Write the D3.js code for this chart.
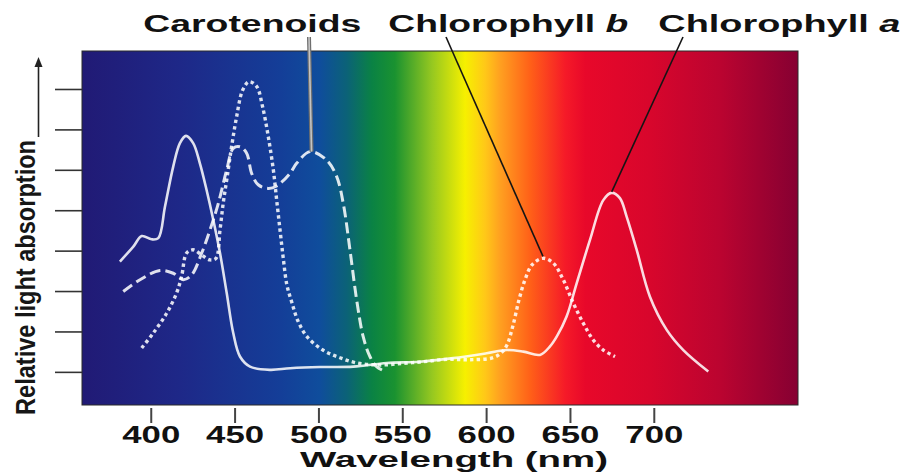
<!DOCTYPE html>
<html>
<head>
<meta charset="utf-8">
<script src="https://cdn.jsdelivr.net/npm/d3@7"></script>
<style>
  html, body { margin: 0; padding: 0; background: #ffffff; }
  svg { display: block; }
</style>
</head>
<body>
<svg id="chart" width="908" height="474"></svg>
<script>
// ---------- data ----------
const wavelengthTicks = [400, 450, 500, 550, 600, 650, 700];
const absorptionTicks = [0, 1, 2, 3, 4, 5, 6, 7];

const seriesNames = ["Carotenoids", "Chlorophyll b", "Chlorophyll a"];

// Chlorophyll a (solid line)
const chlAWavelength = [381.6, 389.6, 394.6, 400.5, 404.5, 408.5, 413.4, 417.4, 421.0, 425.3, 429.3, 433.3, 437.3, 441.3, 445.3, 449.2, 453.2, 459.2, 471.1, 483.1, 501.0, 520.8, 540.7, 560.5, 580.4, 600.3, 612.3, 622.2, 632.1, 638.1, 642.1, 648.0, 654.0, 661.9, 669.9, 674.9, 679.8, 683.8, 689.8, 697.7, 707.7, 717.6, 732.5];
const chlAValue      = [2.73, 3.10, 3.36, 3.28, 3.31, 4.09, 5.08, 5.66, 5.84, 5.66, 5.16, 4.50, 3.76, 2.94, 1.95, 0.96, 0.38, 0.13, 0.05, 0.09, 0.12, 0.13, 0.22, 0.25, 0.34, 0.46, 0.54, 0.50, 0.42, 0.63, 0.87, 1.37, 2.19, 3.26, 4.25, 4.43, 4.30, 3.84, 3.02, 1.86, 1.04, 0.54, 0.01];

// Chlorophyll b (dotted line)
const chlBWavelength = [394.6, 401.5, 409.5, 415.4, 418.4, 421.4, 425.3, 430.4, 435.3, 438.9, 441.3, 443.2, 445.6, 448.2, 451.2, 454.8, 458.7, 463.2, 466.7, 470.1, 473.1, 475.1, 477.1, 479.0, 481.2, 484.2, 487.8, 493.2, 502.7, 512.8, 523.0, 536.7, 550.4, 562.4, 576.7, 590.4, 604.1, 609.5, 612.5, 616.1, 619.6, 623.2, 627.4, 633.9, 640.1, 646.0, 652.0, 658.0, 663.9, 669.9, 676.9];
const chlBValue      = [0.59, 0.96, 1.45, 1.95, 2.36, 2.94, 3.02, 2.89, 2.77, 2.81, 3.51, 4.17, 4.83, 5.57, 6.31, 6.97, 7.18, 7.06, 6.56, 5.82, 5.00, 4.25, 3.51, 2.82, 2.15, 1.71, 1.26, 0.87, 0.54, 0.35, 0.22, 0.17, 0.21, 0.25, 0.31, 0.30, 0.35, 0.49, 0.67, 1.16, 1.78, 2.28, 2.65, 2.81, 2.69, 2.28, 1.70, 1.20, 0.79, 0.54, 0.38];

// Carotenoids (dashed line)
const carWavelength = [383.6, 393.6, 405.5, 413.4, 419.4, 424.4, 430.4, 435.3, 440.3, 445.3, 449.2, 453.2, 457.2, 460.2, 464.1, 470.1, 475.1, 483.0, 487.0, 495.0, 504.9, 510.9, 514.8, 518.8, 522.8, 526.7, 530.7, 534.7, 539.7];
const carValue      = [1.99, 2.28, 2.51, 2.44, 2.28, 2.40, 2.94, 3.51, 4.17, 5.00, 5.53, 5.57, 5.41, 4.91, 4.63, 4.54, 4.60, 4.91, 5.16, 5.45, 5.24, 4.83, 4.17, 3.02, 1.78, 0.87, 0.38, 0.13, 0.01];

// ---------- layout ----------
const svg = d3.select("#chart");
const plot = { left: 82, right: 798, top: 51, bottom: 405 };

const x = d3.scaleLinear().domain([359, 786]).range([plot.left, plot.right]);
const y = d3.scaleLinear().domain([-0.82, 7.94]).range([plot.bottom, plot.top]);

// spectrum gradient
const defs = svg.append("defs");
const grad = defs.append("linearGradient").attr("id", "spectrum")
  .attr("x1", "0%").attr("x2", "100%").attr("y1", "0%").attr("y2", "0%");
const stops = [
  [0.000, "#211a75"], [0.137, "#1e2888"], [0.277, "#143e98"], [0.332, "#0f4d9c"],
  [0.370, "#0b6277"], [0.405, "#0a8244"], [0.437, "#1a9230"], [0.489, "#96c820"],
  [0.535, "#f6f000"], [0.563, "#ffc818"], [0.584, "#ffa020"], [0.626, "#ff6018"],
  [0.675, "#f51a28"], [0.703, "#e8082a"], [0.793, "#d8062c"], [0.891, "#bb0430"],
  [1.000, "#860032"]
];
grad.selectAll("stop").data(stops).join("stop")
  .attr("offset", d => d[0]).attr("stop-color", d => d[1]);

svg.append("rect")
  .attr("x", plot.left).attr("y", plot.top)
  .attr("width", plot.right - plot.left).attr("height", plot.bottom - plot.top)
  .attr("fill", "url(#spectrum)")
  .attr("stroke", "#2a2a2a").attr("stroke-width", 1);

// ---------- axes ----------
const yAxis = d3.axisLeft(y).tickValues(absorptionTicks).tickSize(27).tickFormat("");
const gy = svg.append("g").attr("transform", `translate(${plot.left},0)`).call(yAxis);
gy.select(".domain").remove();
gy.selectAll(".tick line").attr("stroke", "#333").attr("stroke-width", 1.6);

const xAxis = d3.axisBottom(x).tickValues(wavelengthTicks).tickSize(15).tickFormat(d3.format("d"));
const gx = svg.append("g").attr("transform", `translate(0,408)`).call(xAxis);
gx.select(".domain").remove();
gx.selectAll(".tick line").attr("stroke", "#444").attr("stroke-width", 2);
gx.selectAll(".tick text")
  .attr("y", 35).attr("dy", null)
  .attr("fill", "#111")
  .attr("font-family", "'Liberation Sans', Arial, sans-serif")
  .attr("font-weight", "bold").attr("font-size", 23)
  .attr("textLength", 58).attr("lengthAdjust", "spacingAndGlyphs");

svg.append("text")
  .attr("x", 454).attr("y", 467)
  .attr("text-anchor", "middle")
  .attr("font-family", "'Liberation Sans', Arial, sans-serif")
  .attr("font-weight", "bold").attr("font-size", 22).attr("fill", "#111")
  .attr("textLength", 308).attr("lengthAdjust", "spacingAndGlyphs")
  .text("Wavelength (nm)");

// y label + arrow
svg.append("text")
  .attr("transform", "translate(35,277.5) rotate(-90)")
  .attr("text-anchor", "middle")
  .attr("font-family", "'Liberation Sans Narrow', 'Arial Narrow', 'Liberation Sans', sans-serif")
  .attr("font-size", 27).attr("font-weight", "bold").attr("fill", "#161616")
  .attr("textLength", 275).attr("lengthAdjust", "spacingAndGlyphs")
  .text("Relative light absorption");

svg.append("line").attr("x1", 38.5).attr("x2", 38.5).attr("y1", 137).attr("y2", 64)
  .attr("stroke", "#222").attr("stroke-width", 1.6);
svg.append("path").attr("d", "M38.5,57 L34.5,67 L42.5,67 Z").attr("fill", "#222");

// ---------- curves ----------
const line = d3.line().x(d => x(d[0])).y(d => y(d[1])).curve(d3.curveCatmullRom.alpha(0.5));
const zip = (a, b) => a.map((v, i) => [v, b[i]]);

const curves = [
  { name: seriesNames[0], data: zip(carWavelength, carValue), dash: "11,5", width: 3 },
  { name: seriesNames[1], data: zip(chlBWavelength, chlBValue), dash: "3.4,3.2", width: 3.4 },
  { name: seriesNames[2], data: zip(chlAWavelength, chlAValue), dash: null, width: 2.6 }
];

svg.append("g").selectAll("path").data(curves).join("path")
  .attr("d", d => line(d.data))
  .attr("fill", "none")
  .attr("stroke", "#ffffff")
  .attr("stroke-opacity", 0.86)
  .attr("stroke-width", d => d.width)
  .attr("stroke-dasharray", d => d.dash)
  .attr("stroke-linejoin", "round");

// ---------- labels + leader lines ----------
const peakOf = (ws, vs, lo, hi) => {
  let best = -1;
  ws.forEach((w, i) => { if (w >= lo && w <= hi && (best < 0 || vs[i] > vs[best])) best = i; });
  return [ws[best], vs[best]];
};
const carPeak = peakOf(carWavelength, carValue, 480, 520);
const bPeak = peakOf(chlBWavelength, chlBValue, 600, 680);
const aPeak = peakOf(chlAWavelength, chlAValue, 640, 720);

// carotenoids: gray double line
svg.append("line").attr("x1", 309).attr("y1", 37).attr("x2", x(carPeak[0]) + 1.5).attr("y2", y(carPeak[1]))
  .attr("stroke", "#6f6f6f").attr("stroke-width", 4);
svg.append("line").attr("x1", 309).attr("y1", 37).attr("x2", x(carPeak[0]) + 1.5).attr("y2", y(carPeak[1]))
  .attr("stroke", "#c4c4c4").attr("stroke-width", 1.6);

svg.append("line").attr("x1", 446).attr("y1", 37).attr("x2", x(bPeak[0])).attr("y2", y(bPeak[1]) - 2)
  .attr("stroke", "#151515").attr("stroke-width", 1.6);
svg.append("line").attr("x1", 683).attr("y1", 37).attr("x2", x(aPeak[0])).attr("y2", y(aPeak[1]) - 1)
  .attr("stroke", "#151515").attr("stroke-width", 1.6);

const labelFont = "'Liberation Sans', Arial, sans-serif";
function topLabel(xPos, len, main, ital) {
  const t = svg.append("text")
    .attr("x", xPos).attr("y", 31.5)
    .attr("font-family", labelFont).attr("font-weight", "bold")
    .attr("font-size", 23).attr("fill", "#111")
    .attr("textLength", len).attr("lengthAdjust", "spacingAndGlyphs");
  t.append("tspan").text(main);
  if (ital) t.append("tspan").attr("font-style", "italic").text(ital);
}
topLabel(143.3, 218, "Carotenoids", null);
topLabel(388.3, 240, "Chlorophyll ", "b");
topLabel(658.3, 242, "Chlorophyll ", "a");
</script>
</body>
</html>
